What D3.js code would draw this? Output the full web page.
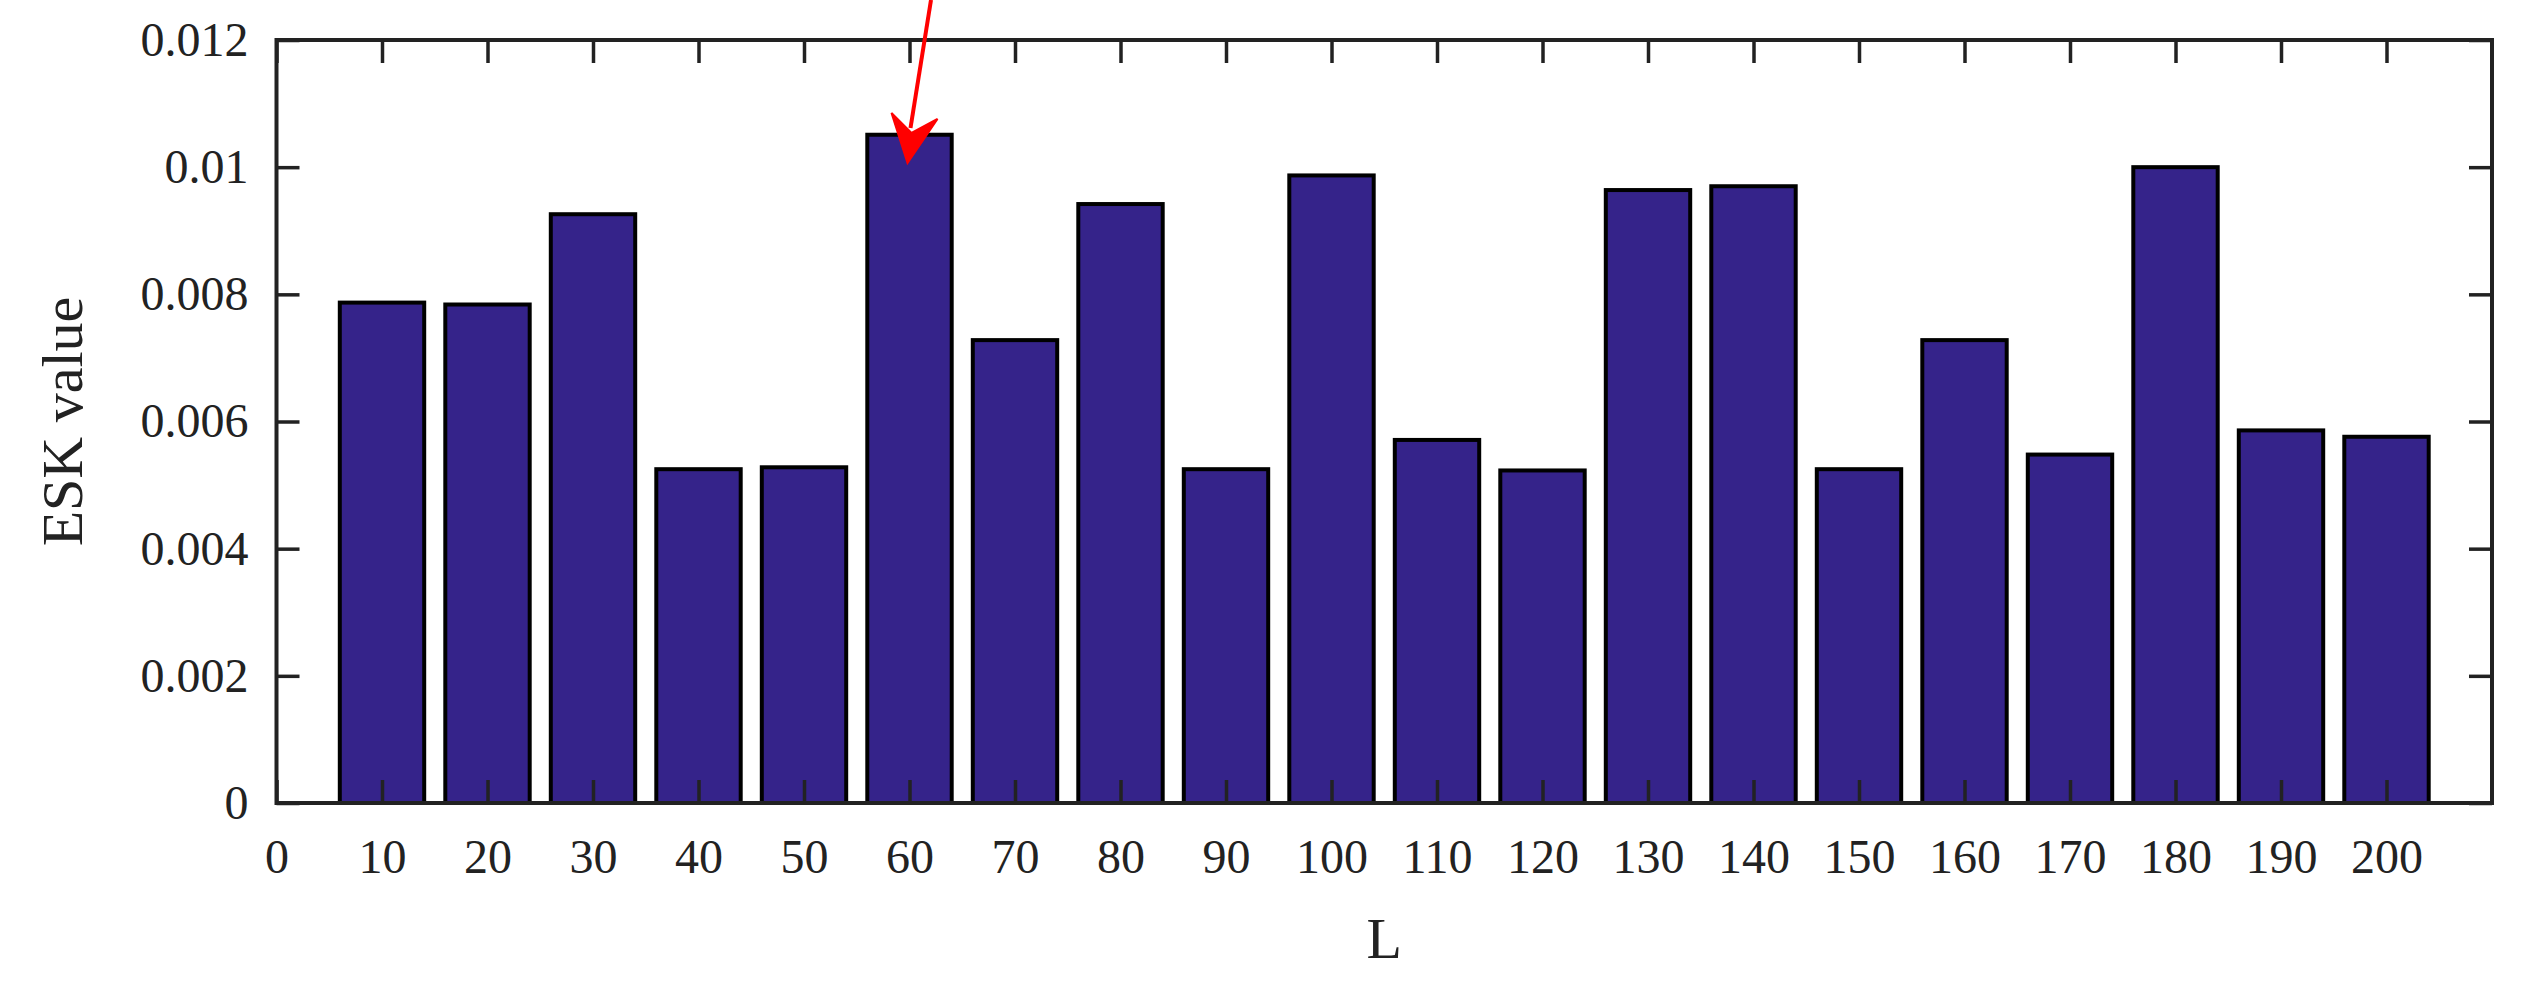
<!DOCTYPE html>
<html><head><meta charset="utf-8">
<script src="https://cdn.jsdelivr.net/npm/d3@7"></script>
<style>body{margin:0;background:#fff}</style></head>
<body><svg id="c" width="2526" height="989"></svg>
<script>
const categories=[10,20,30,40,50,60,70,80,90,100,110,120,130,140,150,160,170,180,190,200];
const values=[0.00787,0.00784,0.00926,0.00525,0.00528,0.01051,0.00728,0.00942,0.00525,0.00987,0.00571,0.00523,0.00964,0.00970,0.00525,0.00728,0.00548,0.01000,0.00586,0.00576];
const xTicks=[0,10,20,30,40,50,60,70,80,90,100,110,120,130,140,150,160,170,180,190,200];
const yTicks=[0,0.002,0.004,0.006,0.008,0.01,0.012];
const svg=d3.select("#c");
const L=276.5,R=2492,T=40,B=803;
const x=d3.scaleLinear().domain([0,210]).range([L,R]);
const y=d3.scaleLinear().domain([0,0.012]).range([B,T]);
const bw=(x(10)-x(0))*0.8;
const font="Liberation Serif, Times New Roman, serif";
svg.append("g").selectAll("rect").data(categories).join("rect")
 .attr("x",d=>x(d)-bw/2).attr("width",bw)
 .attr("y",(d,i)=>y(values[i])).attr("height",(d,i)=>B-y(values[i]))
 .attr("fill","#35238a").attr("stroke","#000").attr("stroke-width",4);
svg.append("g").attr("transform",`translate(0,${B})`).call(d3.axisBottom(x).tickValues(xTicks).tickSizeInner(-23).tickSizeOuter(0).tickPadding(36));
svg.append("g").attr("transform",`translate(${L},0)`).call(d3.axisLeft(y).tickValues(yTicks).tickFormat(d=>d===0?"0":String(+d.toFixed(3))).tickSizeInner(-23).tickSizeOuter(0).tickPadding(28));
svg.append("g").attr("transform",`translate(0,${T})`).call(d3.axisTop(x).tickValues(xTicks).tickSizeInner(-23).tickSizeOuter(0).tickFormat(""));
svg.append("g").attr("transform",`translate(${R},0)`).call(d3.axisRight(y).tickValues(yTicks).tickSizeInner(-23).tickSizeOuter(0).tickFormat(""));
svg.selectAll(".domain").remove();
svg.selectAll(".tick line").attr("stroke","#222").attr("stroke-width",3.5);
svg.selectAll(".tick text").attr("font-family",font).attr("font-size",48).attr("fill","#222");
svg.append("rect").attr("x",L).attr("y",T).attr("width",R-L).attr("height",B-T).attr("fill","none").attr("stroke","#222").attr("stroke-width",4);
svg.append("text").attr("x",x(105)).attr("y",958).attr("text-anchor","middle").attr("font-family",font).attr("font-size",58).attr("fill","#222").text("L");
svg.append("text").attr("transform",`translate(82,${(T+B)/2}) rotate(-90)`).attr("text-anchor","middle").attr("font-family",font).attr("font-size",58).attr("fill","#222").text("ESK value");
// arrow
const ax0=931,ay0=0,ax1=x(60)-2,ay1=163;
svg.append("line").attr("x1",ax0).attr("y1",ay0).attr("x2",ax1+3).attr("y2",ay1-35).attr("stroke","red").attr("stroke-width",4);
svg.append("path").attr("d",`M${ax1},${ay1} L${ax1-16},${ay1-50} L${ax1+4},${ay1-30} L${ax1+30},${ay1-44} Z`).attr("fill","red").attr("stroke","red").attr("stroke-width",2);
</script></body></html>
